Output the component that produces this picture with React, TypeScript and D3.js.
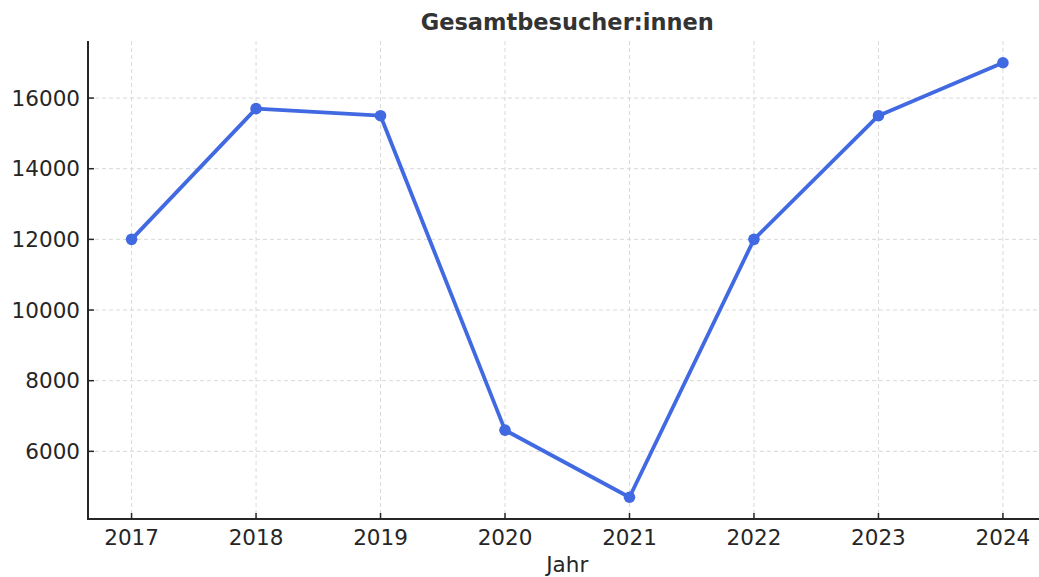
import React from "react";
import * as d3 from "d3";

const years = [2017, 2018, 2019, 2020, 2021, 2022, 2023, 2024];
const visitors = [12000, 15700, 15500, 6600, 4700, 12000, 15500, 17000];
const yTicks = [6000, 8000, 10000, 12000, 14000, 16000];
const title = "Gesamtbesucher:innen";
const xLabel = "Jahr";

export default function App() {
  const W = 1039, H = 577;
  const left = 88, right = 1046.5, top = 41, bottom = 519;
  const x = d3.scaleLinear().domain([2016.65, 2024.35]).range([left, right]);
  const y = d3.scaleLinear().domain([4085, 17615]).range([bottom, top]);
  const line = d3.line<number>().x((_, i) => x(years[i])).y((d) => y(d));
  const font = "DejaVu Sans, sans-serif";
  return (
    <svg width={W} height={H} style={{ position: "absolute", left: 0, top: 0, background: "#fff" }} fontFamily={font}>
      <g>
        {years.map((yr) => (
          <line key={"gx" + yr} x1={x(yr)} x2={x(yr)} y1={top} y2={bottom} stroke="#d9d9d9" strokeWidth={1} strokeDasharray="4,3" />
        ))}
        {yTicks.map((t) => (
          <line key={"gy" + t} x1={left} x2={right} y1={y(t)} y2={y(t)} stroke="#d9d9d9" strokeWidth={1} strokeDasharray="4,3" />
        ))}
      </g>
      <path d={line(visitors) || ""} fill="none" stroke="#4169E1" strokeWidth={3.8} strokeLinejoin="round" />
      {visitors.map((v, i) => (
        <circle key={"p" + i} cx={x(years[i])} cy={y(v)} r={5.8} fill="#4169E1" />
      ))}
      <line x1={left} x2={left} y1={top} y2={bottom} stroke="#262626" strokeWidth={2} />
      <line x1={left - 1} x2={right} y1={bottom} y2={bottom} stroke="#262626" strokeWidth={2} />
      {yTicks.map((t) => (
        <g key={"ty" + t}>
          <line x1={left} x2={left + 6} y1={y(t)} y2={y(t)} stroke="#262626" strokeWidth={1.5} />
          <text x={left - 8} y={y(t)} dy="0.36em" textAnchor="end" fontSize={21.5} fill="#262626">{t}</text>
        </g>
      ))}
      {years.map((yr) => (
        <g key={"tx" + yr}>
          <line x1={x(yr)} x2={x(yr)} y1={bottom} y2={bottom - 6} stroke="#262626" strokeWidth={1.5} />
          <text x={x(yr)} y={bottom + 26} textAnchor="middle" fontSize={21.5} fill="#262626">{yr}</text>
        </g>
      ))}
      <text x={(left + right) / 2} y={572} textAnchor="middle" fontSize={21.5} fill="#262626">{xLabel}</text>
      <text x={(left + right) / 2} y={30} textAnchor="middle" fontSize={22.5} fontWeight="bold" fill="#333">{title}</text>
    </svg>
  );
}
